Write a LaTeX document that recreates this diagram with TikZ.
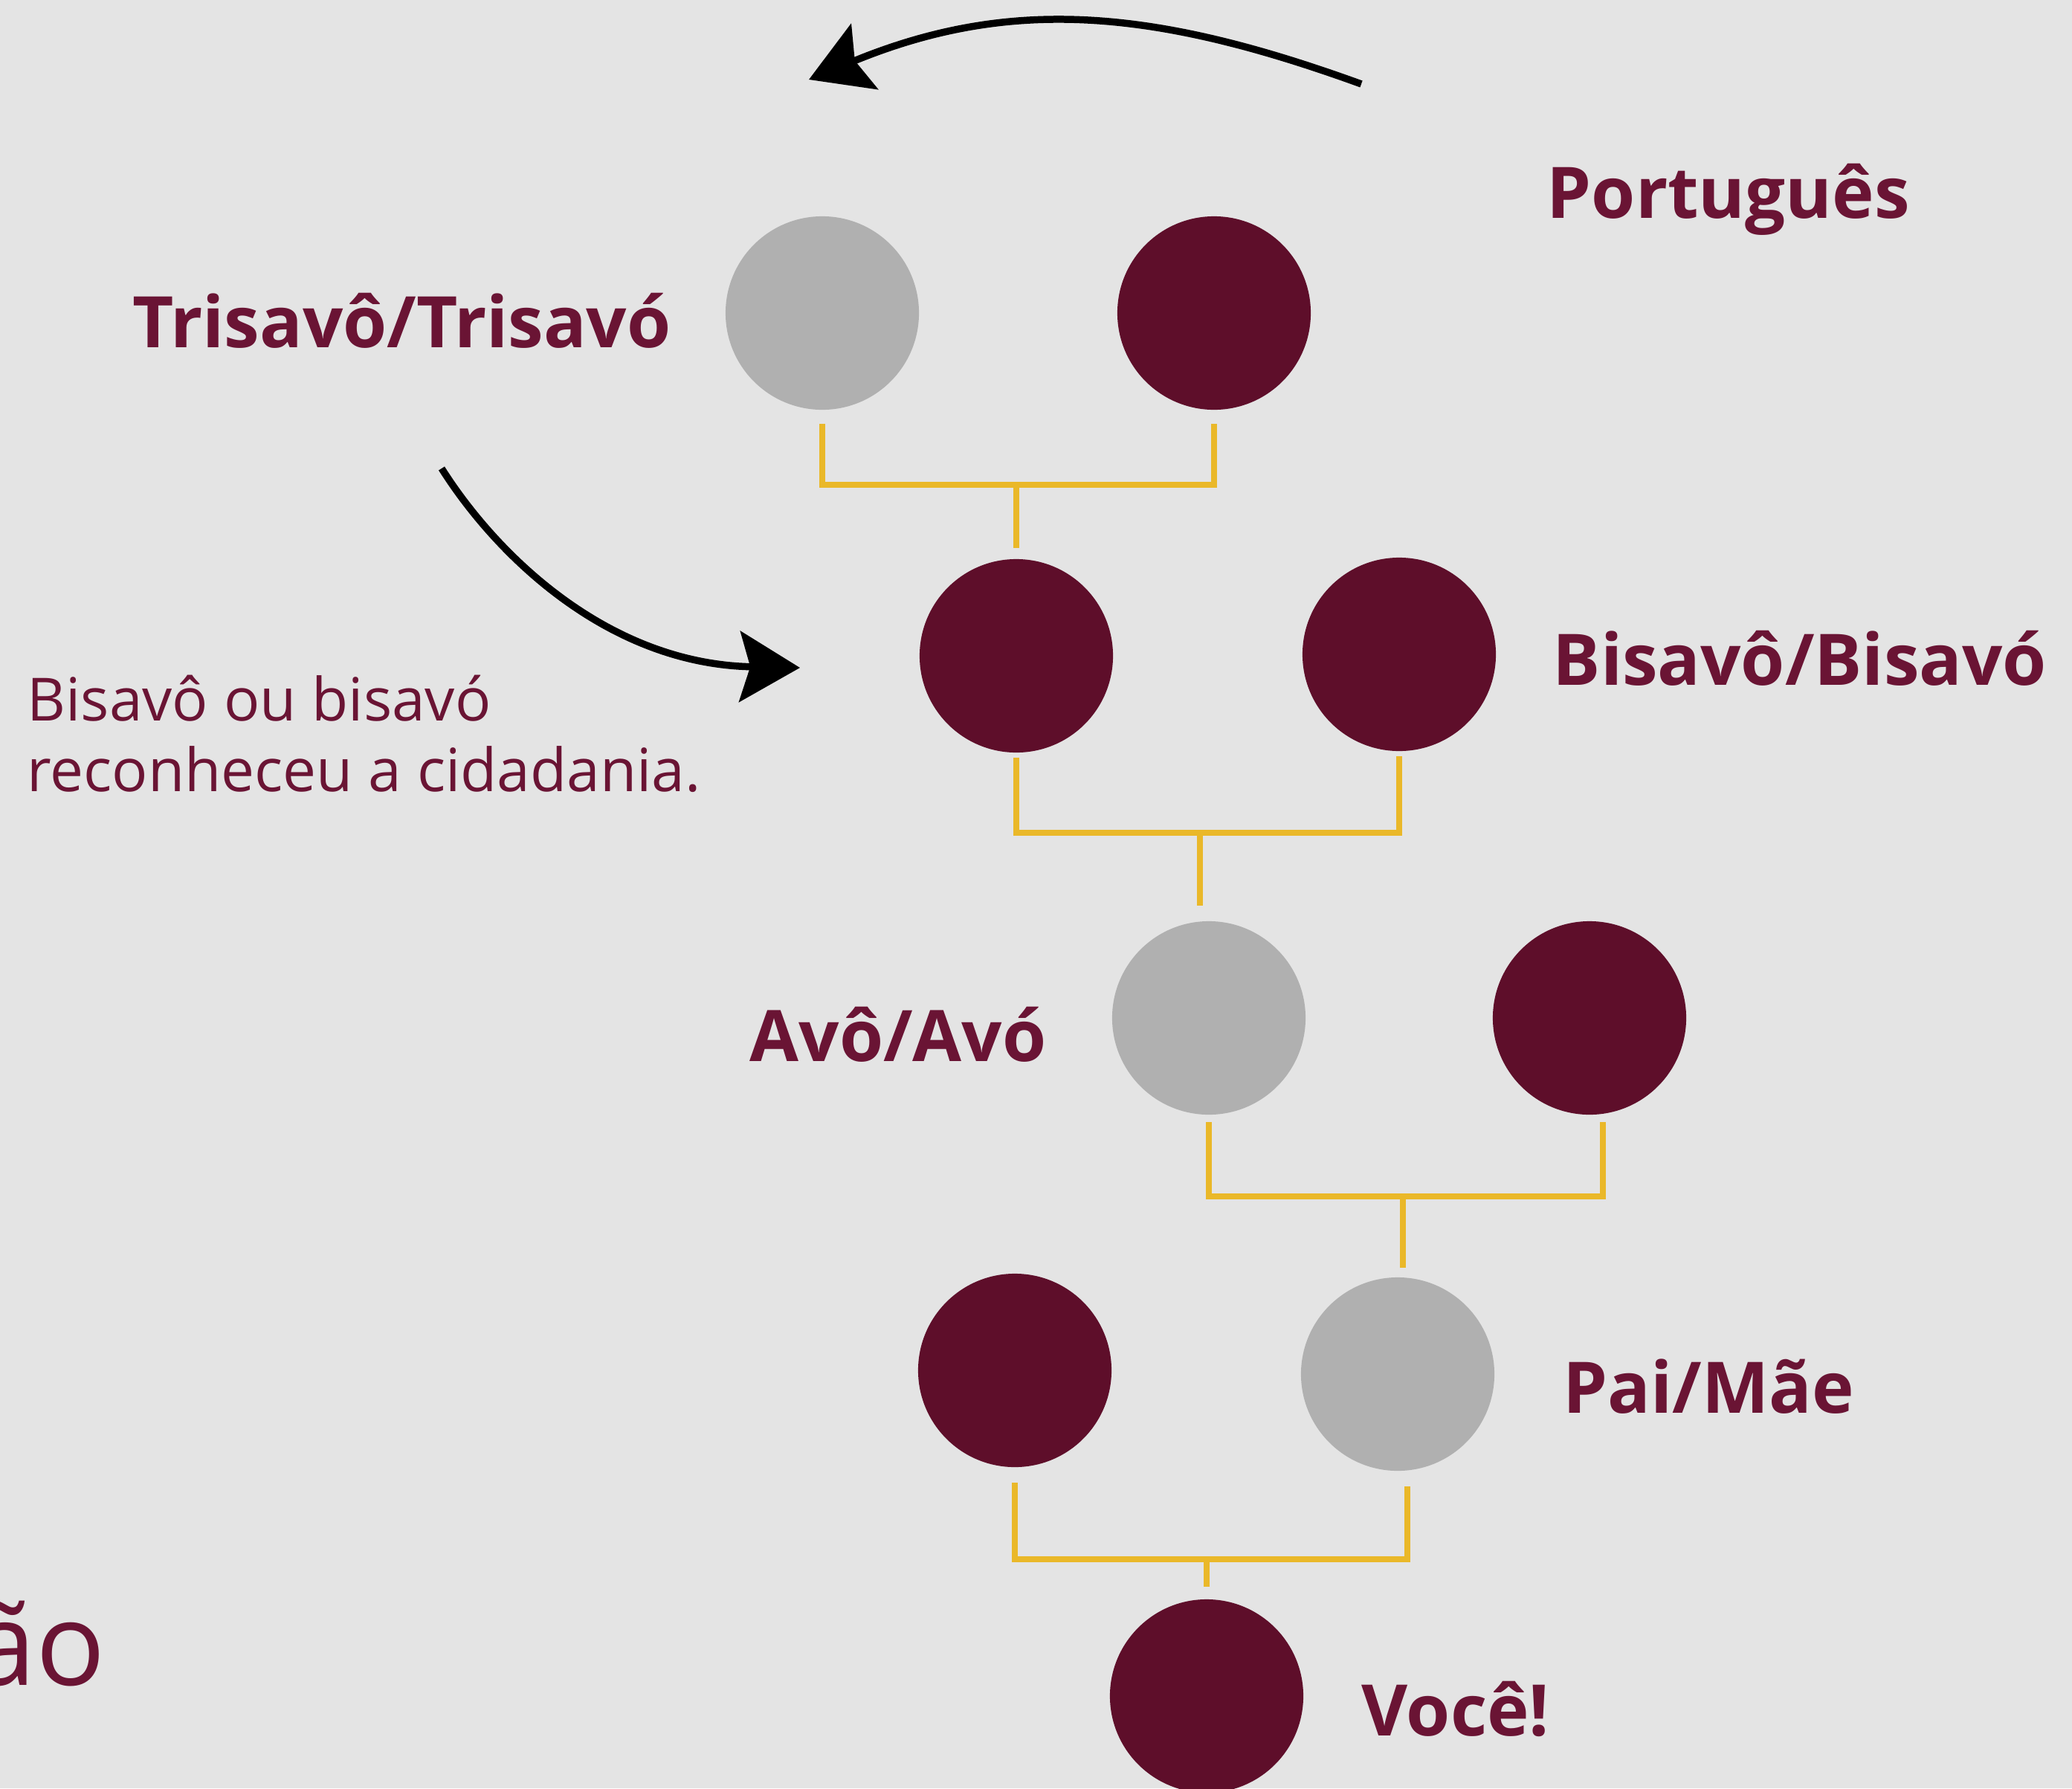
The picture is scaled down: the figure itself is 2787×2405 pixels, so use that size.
\documentclass[tikz,border=0pt]{standalone}
\usepackage{fontspec}
\setmainfont{Open Sans}
\usetikzlibrary{arrows.meta}
\definecolor{bgc}{HTML}{E4E4E4}
\definecolor{maroon}{HTML}{5E0E2A}
\definecolor{labc}{HTML}{6A1434}
\definecolor{greyc}{HTML}{B0B0B0}
\definecolor{gold}{HTML}{EAB829}
\tikzset{
  pers/.style={circle, minimum size=2.6cm, inner sep=0pt, fill=maroon},
  nopt/.style={circle, minimum size=2.6cm, inner sep=0pt, fill=greyc},
  lab/.style={font=\fontsize{27.2}{30}\selectfont\bfseries, text=labc, inner sep=0pt, anchor=base west},
  note/.style={font=\fontsize{22.8}{27}\selectfont, text=labc, inner sep=0pt, align=left},
  link/.style={draw=gold, line width=2.4pt},
  curvearrow/.style={draw=black, line width=2.7pt, -{Stealth[length=23pt,width=27pt,inset=4pt]}}
}
\begin{document}
\begin{tikzpicture}[x=0.01cm,y=-0.01cm]
\useasboundingbox (0,0) rectangle (2787,2405);
\fill[bgc] (0,0) rectangle (2787,2405);

% persons
\node[nopt] (t1) at (1106,421) {};
\node[pers] (t2) at (1633,421) {};
\node[pers] (b1) at (1367,882) {};
\node[pers] (b2) at (1882,880) {};
\node[nopt] (a1) at (1626,1369) {};
\node[pers] (a2) at (2138,1369) {};
\node[pers] (p1) at (1365,1843) {};
\node[nopt] (p2) at (1880,1848) {};
\node[pers] (v) at (1623,2281) {};

% junctions
\coordinate (j1) at (1367,652);
\coordinate (j2) at (1614,1120);
\coordinate (j3) at (1887,1609);
\coordinate (j4) at (1623,2097);

\draw[link] ([yshift=-0.18cm]t1.south) |- (j1) -| ([yshift=-0.18cm]t2.south);
\draw[link] (j1) -- ([yshift=0.14cm]b1.north);
\draw[link] ([yshift=-0.06cm]b1.south) |- (j2) -| ([yshift=-0.06cm]b2.south);
\draw[link] (j2) -- ([yshift=0.2cm]j2 |- a1.north);
\draw[link] ([yshift=-0.09cm]a1.south) |- (j3) -| ([xshift=0.18cm,yshift=-0.09cm]a2.south);
\draw[link] (j3) -- ([yshift=0.12cm]j3 |- p2.north);
\draw[link] ([yshift=-0.2cm]p1.south) |- (j4) -| ([xshift=0.13cm,yshift=-0.2cm]p2.south);
\draw[link] (j4) -- ([yshift=0.16cm]v.north);

% labels
\node[lab] (lport) at (2080,293) {Português};
\node[lab] (ltri) at (178,467) {Trisavô/Trisavó};
\node[lab] (lbis) at (2088,921) {Bisavô/Bisavó};
\node[lab] (lavo) at (1008,1427) {Avô/Avó};
\node[lab] (lpai) at (2102,1900) {Pai/Mãe};
\node[lab] (lvoc) at (1831,2334) {Você!};
\node[note, anchor=base west] (lnote) at (36,1064) {Bisavô ou bisavó\\reconheceu a cidadania.};
\node[font=\fontsize{44}{48}\selectfont, text=labc, inner sep=0pt, anchor=base east] (lcut) at (143,2266) {ão};

% arrows
\coordinate (a1s) at (1831,113);
\coordinate (a1e) at (1088,107);
\draw[curvearrow] (a1s) .. controls (1553,12) and (1360,-5) .. (a1e);
\coordinate (a2s) at (594,630);
\coordinate (a2e) at (1076,898);
\draw[curvearrow] (a2s) .. controls (670,750) and (820,893) .. (a2e);
\end{tikzpicture}
\end{document}
